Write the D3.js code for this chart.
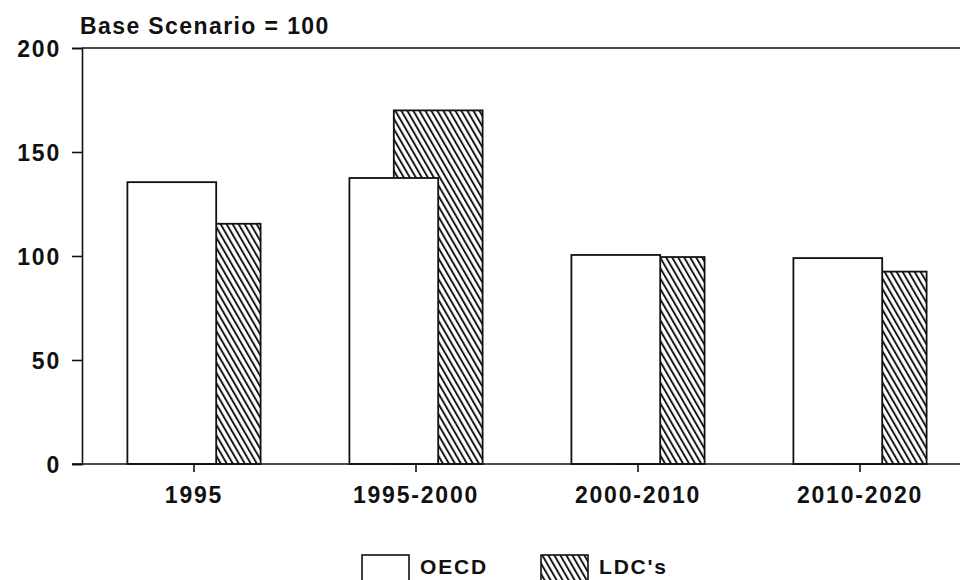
<!DOCTYPE html>
<html>
<head>
<meta charset="utf-8">
<script src="https://cdn.jsdelivr.net/npm/d3@7"></script>
<style>
  body { margin: 0; background: #fff; }
  text { font-family: "Liberation Sans", Arial, sans-serif; font-weight: bold; fill: #111; letter-spacing: 1.8px; }
</style>
</head>
<body>
<div id="chart"></div>
<script>
var categories = ['1995', '1995-2000', '2000-2010', '2010-2020'];
var seriesNames = ['OECD', "LDC's"];
var oecd = [135.5, 137.5, 100.5, 99];
var ldc = [115.5, 170, 99.5, 92.5];
var yTicks = [0, 50, 100, 150, 200];
var title = 'Base Scenario = 100';

var width = 960, height = 580;
var margin = {left: 82, top: 48, bottom: 116};

var svg = d3.select('#chart').append('svg').attr('width', width).attr('height', height);

// hatch for LDC's
var pat = svg.append('defs').append('pattern')
    .attr('id', 'hatch').attr('patternUnits', 'userSpaceOnUse')
    .attr('width', 5.2).attr('height', 10)
    .attr('patternTransform', 'rotate(-30)');
pat.append('rect').attr('width', 5.2).attr('height', 10).attr('fill', '#fff');
pat.append('line').attr('x1', 1).attr('y1', 0).attr('x2', 1).attr('y2', 10)
    .attr('stroke', '#111').attr('stroke-width', 1.9);

var y = d3.scaleLinear().domain([0, 200]).range([height - margin.bottom, margin.top]);
var x = d3.scaleBand().domain(categories).range([margin.left + 1, margin.left + 1 + 4 * 222]);

var bw = x.bandwidth() * 0.4;
function barX(c, k) {
    return x(c) + x.bandwidth() / 2 - 0.75 * bw + k * bw / 2;
}

// top frame line
svg.append('line').attr('x1', margin.left).attr('x2', width).attr('y1', y(200)).attr('y2', y(200))
    .attr('stroke', '#111').attr('stroke-width', 1.6);

/* y axis */
var yAxis = svg.append('g').attr('transform', 'translate(' + margin.left + ',0)')
    .call(d3.axisLeft(y).tickValues(yTicks).tickSize(10).tickPadding(11));
yAxis.select('.domain').attr('stroke', '#111').attr('stroke-width', 1.6);
yAxis.selectAll('.tick line').attr('stroke', '#111').attr('stroke-width', 1.6);
yAxis.selectAll('.tick text').style('font-size', '23px').attr('dy', '0.36em');

/* bars: LDC behind, OECD in front */
var groups = svg.selectAll('.grp').data(categories).enter().append('g').attr('class', 'grp');
groups.append('rect')
    .attr('x', function(d) { return barX(d, 1); })
    .attr('y', function(d, i) { return y(ldc[i]); })
    .attr('width', bw)
    .attr('height', function(d, i) { return y(0) - y(ldc[i]); })
    .attr('fill', 'url(#hatch)').attr('stroke', '#111').attr('stroke-width', 1.8);
groups.append('rect')
    .attr('x', function(d) { return barX(d, 0); })
    .attr('y', function(d, i) { return y(oecd[i]); })
    .attr('width', bw)
    .attr('height', function(d, i) { return y(0) - y(oecd[i]); })
    .attr('fill', '#fff').attr('stroke', '#111').attr('stroke-width', 1.8);

/* x axis */
var xAxis = svg.append('g').attr('transform', 'translate(0,' + y(0) + ')')
    .call(d3.axisBottom(x).tickSize(8).tickPadding(15).tickSizeOuter(0));
xAxis.select('.domain').attr('d', 'M' + (margin.left - 10) + ',0H' + width)
    .attr('stroke', '#111').attr('stroke-width', 1.6);
xAxis.selectAll('.tick line').attr('stroke', '#111').attr('stroke-width', 1.6);
xAxis.selectAll('.tick text').style('font-size', '23px').attr('dy', '0.71em');

// title
svg.append('text').attr('x', 80).attr('y', 34).style('font-size', '23px')
    .style('letter-spacing', '1.4px').text(title);

/* legend */
var legX = [362, 541];
var leg = svg.selectAll('.leg').data(seriesNames).enter().append('g').attr('class', 'leg')
    .attr('transform', function(d, i) { return 'translate(' + legX[i] + ',555)'; });
leg.append('rect').attr('width', 47).attr('height', 28)
    .attr('fill', function(d, i) { return i === 0 ? '#fff' : 'url(#hatch)'; })
    .attr('stroke', '#111').attr('stroke-width', 1.6);
leg.append('text').attr('x', 58).attr('y', 19).style('font-size', '21px')
    .text(function(d) { return d; });
</script>
</body>
</html>
